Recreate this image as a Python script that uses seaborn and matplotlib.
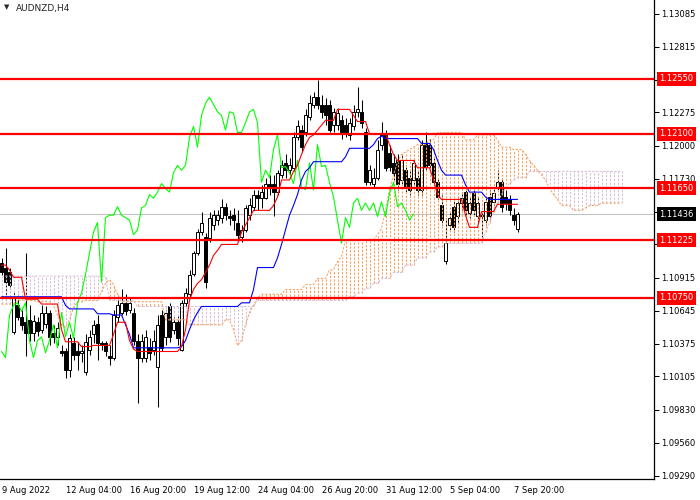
import numpy as np
import pandas as pd
import matplotlib.pyplot as plt
import matplotlib.transforms as mtransforms
import seaborn as sns

# AUDNZD H4 with Ichimoku; all series are in pips above BASE
BASE = 1.1

bar_open = [104, 100, 96, 47, 69, 59, 55, 57, 46, 55,
            49, 54, 63, 46, 43, 31, 31, 16, 38, 31,
            30, 14, 32, 45, 54, 38, 38, 27, 26, 59,
            63, 71, 65, 63, 40, 26, 26, 35, 32, 18,
            61, 43, 68, 49, 55, 32, 71, 78, 95, 112,
            129, 125, 124, 135, 139, 141, 150, 142, 143, 137,
            125, 131, 143, 150, 160, 157, 157, 169, 169, 162,
            176, 186, 180, 182, 207, 213, 211, 224, 234, 240,
            234, 234, 234, 217, 217, 221, 217, 209, 216, 228,
            228, 211, 170, 169, 174, 201, 209, 194, 186, 188,
            172, 180, 174, 172, 174, 164, 202, 201, 186, 170,
            151, 105, 135, 150, 142, 153, 162, 145, 161, 142,
            143, 139, 158, 154, 165, 170, 158, 156, 143, 132]
bar_high = [108, 116, 100, 80, 78, 65, 112, 69, 61, 59,
            69, 68, 65, 53, 55, 36, 34, 45, 43, 39,
            36, 45, 49, 57, 61, 40, 40, 36, 65, 73,
            82, 78, 75, 67, 45, 45, 49, 42, 49, 61,
            65, 65, 71, 59, 61, 73, 83, 98, 114, 132,
            146, 128, 146, 147, 147, 156, 153, 147, 149, 147,
            135, 151, 157, 164, 164, 168, 174, 176, 176, 180,
            188, 193, 190, 211, 221, 217, 230, 242, 244, 254,
            242, 239, 238, 231, 231, 225, 223, 223, 234, 248,
            238, 215, 184, 182, 205, 220, 213, 201, 193, 193,
            193, 184, 179, 190, 180, 205, 211, 206, 190, 174,
            160, 141, 146, 156, 157, 162, 165, 158, 165, 158,
            146, 158, 164, 165, 180, 174, 164, 160, 149, 146]
bar_low = [94, 73, 82, 45, 57, 49, 27, 40, 40, 44,
           46, 50, 36, 38, 36, 27, 9, 10, 24, 16,
           22, 12, 28, 38, 24, 32, 27, 20, 24, 55,
           61, 61, 63, 36, -11, 22, 22, 24, 28, -15,
           31, 36, 39, 45, 36, 31, 68, 75, 93, 110,
           127, 83, 121, 131, 135, 137, 139, 135, 131, 123,
           121, 129, 139, 147, 147, 149, 156, 160, 142, 160,
           174, 174, 176, 179, 205, 195, 208, 221, 231, 230,
           223, 217, 211, 211, 213, 206, 207, 205, 213, 224,
           215, 168, 168, 166, 172, 197, 179, 179, 172, 164,
           168, 162, 160, 168, 160, 160, 180, 180, 168, 156,
           135, 103, 131, 129, 137, 147, 143, 141, 143, 137,
           125, 135, 139, 151, 164, 146, 147, 143, 135, 129]
bar_close = [96, 88, 86, 75, 59, 53, 46, 46, 56, 48,
             63, 63, 43, 43, 50, 30, 16, 42, 28, 28,
             31, 39, 43, 53, 38, 36, 31, 26, 61, 69,
             71, 64, 71, 40, 26, 40, 43, 30, 40, 53,
             34, 63, 43, 55, 42, 71, 79, 94, 112, 129,
             137, 88, 141, 143, 143, 150, 143, 141, 139, 127,
             131, 149, 151, 160, 157, 162, 169, 165, 162, 178,
             184, 180, 184, 207, 216, 199, 225, 235, 240, 234,
             228, 225, 213, 228, 227, 211, 211, 219, 228, 230,
             219, 170, 180, 174, 197, 209, 182, 183, 178, 169,
             188, 166, 164, 186, 164, 201, 183, 184, 170, 158,
             139, 120, 141, 133, 153, 157, 147, 153, 147, 153,
             142, 154, 142, 161, 170, 150, 153, 147, 139, 144]

tenkan = ([102] * 2 + [98] + [92] * 3 + [74] * 4 + [70] * 5 + [49] + [39] * 4
          + [35] * 3 + [36] * 5 + [45] + [55] * 3 + [40] + [33] + [31] * 11
          + [35, 49, 73, 82, 87] + [90, 96, 102, 110, 114] + [119] * 5
          + [129, 135, 141] + [147] * 5 + [151, 158] + [172] * 3
          + [179, 184, 193, 201, 207, 209, 213, 217] + [221] * 3 + [230] * 4
          + [225] + [220] * 3 + [210] * 5 + [201, 193] + [188] * 5 + [182] * 4
          + [172, 160] + [156] * 6 + [143] + [133] * 3 + [146] * 4 + [152] * 6)
kijun = ([76] * 16 + [69] + [66] * 7 + [62] * 4 + [61] * 3 + [53, 45] + [34] * 12
         + [35, 40, 49, 57, 63] + [68] * 10 + [71] * 3 + [82] + [100] * 5
         + [108, 119, 131, 143, 151, 160, 172, 179, 182] + [187] * 8 + [191]
         + [198] * 6 + [201, 206, 208] + [206] * 9 + [202] * 3 + [197, 188, 180]
         + [176] * 5 + [168] + [162] * 4 + [158] + [156] * 8)
span_a = ([70] * 4 + [73] * 5 + [72] * 4 + [69, 61, 53, 51, 57, 67] + [72] * 2
          + [73] * 4 + [80, 87, 90, 86, 78] + [72] * 11 + [57] * 6 + [53] * 9
          + [57] * 2 + [49, 36, 40, 53, 63, 69, 75] + [78] * 6 + [82] * 5
          + [86] * 3 + [91] * 3 + [98] * 2 + [105, 109] + [123] * 8
          + [127, 132, 147, 164, 176, 187, 193, 195, 197, 199] + [201] * 3
          + [205] * 2 + [211] * 7 + [205] * 3 + [209] * 5 + [205] + [199] * 3
          + [197] * 3 + [193, 188, 184, 180, 176, 172, 165, 160, 156]
          + [151] * 3 + [147] * 3 + [149] + [151] * 3 + [153] * 6)
span_b = ([93] * 27 + [73] * 7 + [68] * 30 + [73] * 23 + [76] * 2 + [79] * 2
          + [83] * 2 + [87] * 2 + [91] * 3 + [96] * 3 + [102] * 3 + [108] * 3
          + [113] * 2 + [117] * 2 + [120] * 10
          + [129, 137, 146, 153, 160, 165, 169, 172] + [174] * 3 + [179] * 24)

levels = [1.12550, 1.12100, 1.11650, 1.11225, 1.10750]
last_price = 1.11436
price_ticks = [1.13085, 1.12815, 1.12545, 1.12275, 1.12000, 1.11730, 1.11460,
               1.11190, 1.10915, 1.10645, 1.10375, 1.10105, 1.09830, 1.09560, 1.09290]
hidden_ticks = [1.12545, 1.11460, 1.11190]   # covered by the price boxes
time_ticks = [0, 16, 32, 48, 64, 80, 96, 112, 128]
time_labels = ['9 Aug 2022', '12 Aug 04:00', '16 Aug 20:00', '19 Aug 12:00',
               '24 Aug 04:00', '26 Aug 20:00', '31 Aug 12:00', '5 Sep 04:00',
               '7 Sep 20:00']


def to_price(p):
    return BASE + np.asarray(p, dtype=float) / 10000.0


df = pd.DataFrame({'bar': np.arange(len(bar_close)),
                   'open': to_price(bar_open), 'high': to_price(bar_high),
                   'low': to_price(bar_low), 'close': to_price(bar_close),
                   'tenkan': to_price(tenkan), 'kijun': to_price(kijun)})
df['chikou'] = df['close'].shift(-26)
kumo = pd.DataFrame({'bar': np.arange(len(span_a)),
                     'a': to_price(span_a), 'b': to_price(span_b)})

sns.set_theme(style='white')
plt.rcParams['font.family'] = ['DejaVu Sans']

fig = plt.figure(figsize=(7, 5), dpi=100)
ax = fig.add_axes([0, 21 / 500, 654 / 700, 479 / 500])

ax.axhline(last_price, color='#C0C0C0', lw=0.75, zorder=1)

# candles
up = df['close'] >= df['open']
ax.vlines(df['bar'], df['low'], df['high'], color='black', lw=0.75, zorder=2)
body = (df['close'] - df['open']).abs().clip(lower=0.000012)
ax.bar(df['bar'], body, bottom=df[['open', 'close']].min(axis=1), width=0.62,
       color=np.where(up, 'white', 'black'), edgecolor='black', linewidth=0.7,
       zorder=2.1)

# kumo as dotted histogram
kcol = np.where(kumo['a'] >= kumo['b'], '#F4A460', '#D8BFD8')
ax.vlines(kumo['bar'], kumo[['a', 'b']].min(axis=1), kumo[['a', 'b']].max(axis=1),
          colors=kcol, linestyles=[(0, (2.2, 1.4))], lw=0.75, zorder=2.5)
sns.lineplot(data=kumo, x='bar', y='a', ax=ax, color='#F4A460', lw=0.75,
             linestyle=(0, (2.2, 1.4)), estimator=None, zorder=2.6)
sns.lineplot(data=kumo, x='bar', y='b', ax=ax, color='#D8BFD8', lw=0.75,
             linestyle=(0, (2.2, 1.4)), estimator=None, zorder=2.6)

sns.lineplot(data=df, x='bar', y='chikou', ax=ax, color='#00FF00', lw=0.8,
             estimator=None, zorder=3)
sns.lineplot(data=df, x='bar', y='kijun', ax=ax, color='#0000FF', lw=0.8,
             estimator=None, zorder=3.1)
sns.lineplot(data=df, x='bar', y='tenkan', ax=ax, color='#FF0000', lw=0.8,
             estimator=None, zorder=3.2)

for lv in levels:
    ax.axhline(lv, color='#FF0000', lw=1.6, zorder=4)

ax.set_xlim(-0.375, 163.125)
ax.set_ylim(1.09262, 1.13199)
ax.set_xlabel('')
ax.set_ylabel('')

ax.yaxis.tick_right()
ax.set_yticks(price_ticks)
ax.set_yticklabels(['' if t in hidden_ticks else f'{t:.5f}' for t in price_ticks])
ax.set_xticks(time_ticks)
ax.set_xticklabels(time_labels, ha='left')
shift = mtransforms.ScaledTranslation(1 / 72, 0, fig.dpi_scale_trans)
for lab in ax.get_xticklabels():
    lab.set_transform(lab.get_transform() + shift)
ax.tick_params(axis='both', direction='out', length=3.5, width=0.75,
               labelsize=6, colors='black', pad=1.5)
ax.tick_params(axis='y', left=False, right=True)

for s in ['top', 'left']:
    ax.spines[s].set_visible(False)
for s in ['right', 'bottom']:
    ax.spines[s].set_color('black')
    ax.spines[s].set_linewidth(0.9)

trans = mtransforms.blended_transform_factory(ax.transAxes, ax.transData)
for lv in levels:
    ax.text(1 + 5 / 654, lv, f'{lv:.5f}', transform=trans, ha='left', va='center',
            fontsize=6, color='white', clip_on=False, zorder=6,
            bbox=dict(boxstyle='square,pad=0.3', fc='#FF0000', ec='none'))
ax.text(1 + 5 / 654, last_price, f'{last_price:.5f}', transform=trans, ha='left',
        va='center', fontsize=6, color='white', clip_on=False, zorder=6,
        bbox=dict(boxstyle='square,pad=0.3', fc='black', ec='none'))

fig.text(7 / 700, 1 - 7 / 500, '\u25bc', fontsize=5, ha='center', va='center')
fig.text(16 / 700, 1 - 8 / 500, 'AUDNZD,H4', fontsize=6.5, ha='left', va='center')

fig.savefig('out.png', dpi=100)
